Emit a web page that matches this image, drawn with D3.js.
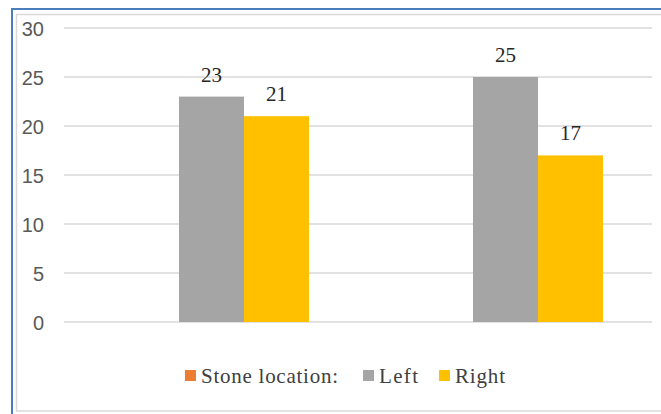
<!DOCTYPE html>
<html><head><meta charset="utf-8">
<script src="https://cdn.jsdelivr.net/npm/d3@7"></script>
<style>body{margin:0;background:#fff}svg{display:block}</style>
</head><body><svg id="c" width="661" height="414"></svg>
<script>
const categories = ["A", "B"];
const seriesNames = ["Left", "Right"];
const leftValues = [23, 25];
const rightValues = [21, 17];
const yTicks = [0, 5, 10, 15, 20, 25, 30];
const legendTitle = "Stone location:";
const colors = {Left: "#A5A5A5", Right: "#FFC000", title: "#ED7D31"};

const svg = d3.select("#c");
// frames
svg.append("rect").attr("x", 12).attr("y", 9).attr("width", 700).attr("height", 420)
  .attr("fill", "none").attr("stroke", "#4A7EBB").attr("stroke-width", 2);
svg.append("rect").attr("x", 16.5).attr("y", 14.5).attr("width", 700).attr("height", 396.5)
  .attr("fill", "none").attr("stroke", "#D9D9D9").attr("stroke-width", 1.5);

const y = d3.scaleLinear().domain([0, 30]).range([322, 28]);
const x0 = d3.scaleBand().domain(categories).range([97, 685]);
const x1 = d3.scaleBand().domain(seriesNames).range([0, 130]);
const gridX1 = 64, gridX2 = 652;

// gridlines
svg.append("g").selectAll("line").data(yTicks).join("line")
  .attr("x1", gridX1).attr("x2", gridX2)
  .attr("y1", d => y(d)).attr("y2", d => y(d))
  .attr("stroke", "#D9D9D9").attr("stroke-width", 1.5);

// y axis labels
const yAxis = d3.axisLeft(y).tickValues(yTicks).tickSize(0).tickPadding(0);
const ga = svg.append("g").attr("transform", "translate(44,0)").call(yAxis);
ga.select(".domain").remove();
ga.selectAll("text").attr("font-family", "Liberation Sans, Arial, sans-serif")
  .attr("font-size", 20).attr("fill", "#595959").attr("dy", "0.36em");

const data = categories.map((c, i) => ({cat: c, vals: [
  {s: "Left", v: leftValues[i]}, {s: "Right", v: rightValues[i]}]}));

const groups = svg.append("g").selectAll("g").data(data).join("g")
  .attr("transform", d => `translate(${x0(d.cat) + x0.bandwidth() / 2 - 65},0)`);
groups.selectAll("rect").data(d => d.vals).join("rect")
  .attr("x", d => x1(d.s)).attr("width", x1.bandwidth())
  .attr("y", d => y(d.v)).attr("height", d => y(0) - y(d.v))
  .attr("fill", d => colors[d.s]);
groups.selectAll("text").data(d => d.vals).join("text")
  .attr("x", d => x1(d.s) + x1.bandwidth() / 2)
  .attr("y", d => y(d.v) - 15)
  .attr("text-anchor", "middle")
  .attr("font-family", "Liberation Serif, Times New Roman, serif")
  .attr("font-size", 21).attr("fill", "#262626")
  .text(d => d.v);

// legend
const legendItems = [
  {label: legendTitle, color: colors.title, x: 185, w: 137},
  {label: "Left", color: colors.Left, x: 363, w: 39},
  {label: "Right", color: colors.Right, x: 439, w: 50}
];
const lg = svg.append("g").selectAll("g").data(legendItems).join("g")
  .attr("transform", d => `translate(${d.x},370)`);
lg.append("rect").attr("width", 11).attr("height", 11).attr("fill", d => d.color);
lg.append("text").attr("x", 16).attr("y", 13)
  .attr("font-family", "Liberation Serif, Times New Roman, serif")
  .attr("font-size", 21).attr("fill", "#404040")
  .attr("textLength", d => d.w).attr("lengthAdjust", "spacing")
  .text(d => d.label);
</script></body></html>
